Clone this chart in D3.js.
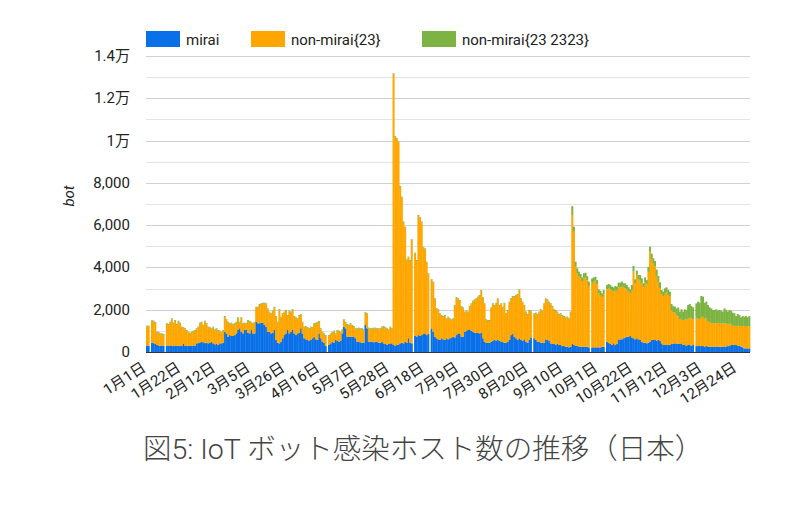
<!DOCTYPE html>
<html>
<head>
<meta charset="utf-8">
<script src="https://cdn.jsdelivr.net/npm/d3@7"></script>
<style>
  body { margin: 0; background: #fff; }
  text { font-family: Roboto, "Noto Sans CJK JP", sans-serif; }
</style>
</head>
<body>
<svg id="chart" width="800" height="505"></svg>
<script>
// daily values, 2017-01-01 .. 2017-12-31 (0 = no data that day)
const mirai = [
300,300,0,440,420,380,330,310,300,300,
300,0,300,300,310,300,280,300,290,300,
280,300,380,300,280,300,290,300,310,300,
410,420,450,490,460,420,430,410,440,490,
410,360,380,330,410,410,440,960,880,725,
800,760,760,800,880,1040,1120,960,880,1040,
1070,910,880,1040,880,880,1430,1360,1360,1390,
1390,1280,1200,960,960,880,910,1040,570,440,
410,490,650,800,880,1040,880,960,1040,880,
800,880,910,1120,880,650,600,570,540,570,
650,725,600,570,880,650,490,440,280,0,
330,410,490,440,570,540,490,540,880,1200,
1120,725,725,725,725,725,650,490,490,460,
440,440,1280,1120,490,490,490,460,490,490,
440,440,490,410,380,330,380,410,410,330,
300,330,360,410,440,410,490,440,650,440,
410,0,760,730,800,760,800,850,880,800,
850,0,1120,960,725,650,600,570,650,600,
570,650,600,650,690,725,690,800,880,880,
725,725,960,990,1040,1070,1010,960,910,910,
910,880,910,650,490,440,440,440,490,540,
570,540,570,540,490,470,440,440,490,570,
800,850,725,650,570,650,570,540,600,490,
440,570,690,0,650,570,490,490,440,440,
440,600,570,540,410,380,380,330,380,330,
330,280,280,250,250,220,250,380,330,290,
290,250,250,250,250,250,250,220,0,220,
220,220,220,220,220,250,250,0,490,440,
380,330,410,330,380,570,600,600,650,690,
725,725,760,690,650,600,650,600,570,490,
440,440,410,440,490,570,570,570,540,570,
540,410,330,330,330,330,330,380,400,410,
400,400,380,410,330,330,300,330,330,300,
330,0,280,280,300,280,280,260,280,260,
250,250,250,250,260,250,250,250,250,260,
260,280,300,330,330,330,330,300,300,260,
220,170,170,170,170
];

const nonMirai23 = [
905,905,0,1020,1020,1000,590,610,540,540,
510,0,1020,980,1080,1250,1070,1170,990,1140,
1070,860,750,780,720,620,585,620,660,700,
670,740,900,900,780,1020,890,750,690,590,
750,670,700,670,560,510,560,700,625,665,
520,590,510,520,510,560,270,640,440,310,
250,560,560,350,440,510,670,740,870,870,
900,1010,1060,1060,910,910,1005,1060,1090,950,
1570,1140,1140,1070,1070,670,1035,910,940,780,
800,670,800,640,510,510,590,560,540,590,
480,595,750,820,550,430,430,400,480,0,
430,430,430,530,270,460,480,380,150,305,
270,555,515,595,515,465,430,590,620,620,
640,590,560,670,620,590,590,650,620,590,
640,640,670,780,750,750,650,750,670,12790,
9880,9740,9550,7400,6870,5720,5400,3900,3820,3870,
4880,0,3900,3580,5640,5570,5330,4090,3980,3430,
2830,0,2280,2330,1775,1380,1380,1220,1060,1060,
1140,900,1030,900,815,825,1490,1750,1620,1540,
1415,1345,910,925,830,1070,1250,1430,1540,1590,
1670,1780,1980,1900,1770,1065,1030,1030,1580,1720,
1610,1750,1930,1640,1770,1630,1850,1350,1460,1770,
1700,1760,1885,2010,2130,2270,1930,1800,1580,1380,
1320,1380,1225,0,1140,1250,1270,1380,1540,1475,
1820,1900,1880,1800,1850,1760,1600,1620,1490,1430,
1460,1430,1380,1380,1380,1330,1620,6100,5360,3740,
3430,3340,3235,3075,3230,3280,3150,2905,0,3055,
3105,3150,2990,2550,2475,2360,2490,0,2475,2575,
2585,2600,2445,2570,2520,2490,2460,2525,2410,2320,
2240,2130,2010,2240,3150,2650,2995,2835,2830,2750,
2620,2840,2800,3350,4250,3820,3620,3490,3060,2720,
2480,2320,2320,2460,2480,2370,2320,1590,1490,1470,
1360,1280,1150,1160,1180,1210,1240,1270,1290,1290,
1220,0,1300,1300,1250,1370,1390,1320,1300,1200,
1160,1110,1100,1120,1100,1110,1120,1100,1100,1100,
1090,1030,1040,1000,910,900,900,940,930,960,
1010,1060,1060,1050,1060
];

const nonMirai2323 = [
40,40,0,40,40,40,40,40,40,40,
40,0,40,40,40,40,40,40,40,40,
40,40,40,40,40,40,40,40,40,40,
40,40,40,40,40,40,40,40,40,40,
40,40,40,40,40,40,40,40,40,40,
40,40,40,40,40,40,40,40,40,40,
40,40,40,40,40,40,40,40,40,40,
40,40,40,40,40,40,40,40,40,40,
40,40,40,40,40,40,40,40,40,40,
40,40,40,40,40,40,40,40,40,40,
40,40,40,40,40,40,40,40,40,0,
40,40,40,40,40,40,40,40,40,40,
40,40,40,40,40,40,40,40,40,40,
40,40,40,40,40,40,40,40,40,40,
40,40,40,40,40,40,40,40,40,60,
40,40,40,40,40,40,40,40,40,40,
40,0,40,40,40,40,40,40,40,40,
40,0,40,40,40,40,40,40,40,40,
40,40,40,40,40,40,40,40,40,40,
40,40,40,40,40,40,40,40,40,40,
40,40,40,40,40,40,40,40,40,40,
40,40,40,40,40,40,40,40,40,40,
40,40,40,40,40,40,40,40,40,40,
40,40,40,0,40,40,40,40,40,40,
40,40,40,40,40,40,40,40,40,40,
40,40,40,40,40,40,40,420,235,240,
240,210,205,205,240,220,190,205,0,205,
205,190,190,190,205,160,190,0,205,205,
205,160,205,220,190,220,220,205,190,240,
205,205,190,240,270,190,205,205,240,240,
190,250,190,240,240,260,240,240,300,310,
280,200,200,220,250,230,200,300,280,260,
300,420,380,450,400,480,450,620,650,580,
560,0,720,800,780,1000,950,750,800,760,
700,700,640,620,660,590,620,600,560,700,
640,600,650,620,620,600,470,560,520,420,
470,440,470,420,470
];

const seriesNames = ["mirai", "non-mirai{23}", "non-mirai{23 2323}"];
const seriesColors = ["#0a70e8", "#ffa600", "#7cb342"];
const tickLabels = ["1月1日","1月22日","2月12日","3月5日","3月26日","4月16日","5月7日","5月28日",
  "6月18日","7月9日","7月30日","8月20日","9月10日","10月1日","10月22日","11月12日","12月3日","12月24日"];
const yTicks = [0, 2000, 4000, 6000, 8000, 10000, 12000, 14000];

const svg = d3.select("#chart");
const plotLeft = 146, plotRight = 750, plotTop = 56, plotBottom = 352;

const rows = mirai.map(function (m, i) {
  return { day: i, mirai: m, nm23: nonMirai23[i], nm2323: nonMirai2323[i] };
});

const x = d3.scaleBand()
  .domain(d3.range(rows.length))
  .range([plotLeft, plotRight])
  .padding(0);

const y = d3.scaleLinear()
  .domain([0, 14000])
  .range([plotBottom, plotTop]);

// gridlines every 1000
svg.append("g")
  .selectAll("line")
  .data(d3.range(1000, 14001, 1000))
  .join("line")
  .attr("x1", plotLeft).attr("x2", plotRight)
  .attr("y1", d => Math.round(y(d)) + 0.5)
  .attr("y2", d => Math.round(y(d)) + 0.5)
  .attr("stroke", d => d % 2000 === 0 ? "#d0d0d0" : "#e3e3e3")
  .attr("stroke-width", 1);

// stacked bars
const stack = d3.stack().keys(["mirai", "nm23", "nm2323"]);
const layers = stack(rows);

svg.append("g")
  .selectAll("g")
  .data(layers)
  .join("g")
  .attr("fill", (d, i) => seriesColors[i])
  .selectAll("rect")
  .data(d => d.filter(p => p[1] > p[0]))
  .join("rect")
  .attr("x", d => x(d.data.day))
  .attr("width", x.bandwidth() + 0.35)
  .attr("y", d => y(d[1]))
  .attr("height", d => y(d[0]) - y(d[1]));

// baseline
svg.append("line")
  .attr("x1", plotLeft).attr("x2", plotRight)
  .attr("y1", y(0) + 0.5).attr("y2", y(0) + 0.5)
  .attr("stroke", "#333").attr("stroke-width", 1);

// y axis labels
const yFmt = function (v) {
  if (v >= 10000) return (v / 10000) + "万";
  return d3.format(",")(v);
};
svg.append("g")
  .selectAll("text")
  .data(yTicks)
  .join("text")
  .attr("x", 130)
  .attr("y", d => y(d) + 5)
  .attr("text-anchor", "end")
  .attr("font-size", 15)
  .attr("fill", "#222")
  .text(yFmt);

svg.append("text")
  .attr("transform", "translate(74,196) rotate(-90)")
  .attr("text-anchor", "middle")
  .attr("font-size", 15)
  .attr("font-style", "italic")
  .attr("fill", "#222")
  .text("bot");

// x axis
const xAxis = svg.append("g")
  .attr("transform", "translate(0," + plotBottom + ")")
  .call(d3.axisBottom(x)
    .tickValues(tickLabels.map((t, i) => i * 21))
    .tickFormat((d, i) => tickLabels[i])
    .tickSize(0));
xAxis.select(".domain").remove();
xAxis.selectAll("text")
  .attr("font-size", 15)
  .attr("fill", "#222")
  .attr("font-family", "Roboto, 'Noto Sans CJK JP', sans-serif")
  .attr("text-anchor", "end")
  .attr("dy", 0)
  .attr("y", 0)
  .attr("transform", "translate(0,18) rotate(-33)");

// legend
const legendX = [146, 251, 422];
const legend = svg.append("g")
  .selectAll("g")
  .data(seriesNames)
  .join("g")
  .attr("transform", (d, i) => "translate(" + legendX[i] + ",31)");
legend.append("rect")
  .attr("width", 34).attr("height", 16)
  .attr("fill", (d, i) => seriesColors[i]);
legend.append("text")
  .attr("x", 40).attr("y", 14)
  .attr("font-size", 15)
  .attr("fill", "#222")
  .text(d => d);

// caption
svg.append("text")
  .attr("x", 143)
  .attr("y", 459)
  .attr("font-size", 28.5)
  .attr("font-weight", 300)
  .attr("fill", "#444")
  .attr("font-family", "'Noto Sans CJK JP', 'Noto Sans', sans-serif")
  .text("図5: IoT ボット感染ホスト数の推移（日本）");
</script>
</body>
</html>
